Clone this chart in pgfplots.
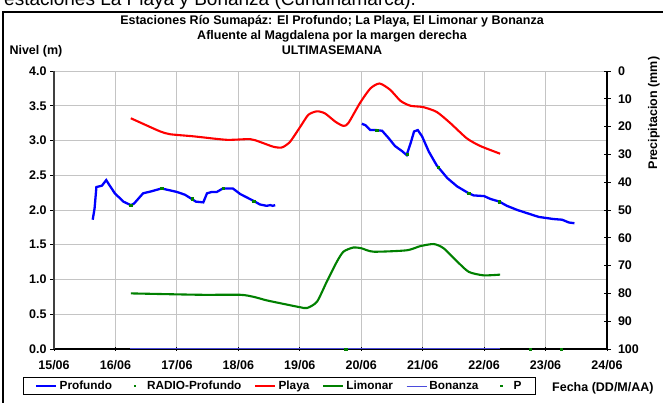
\documentclass[border=0pt]{standalone}
\usepackage{fontspec}
\setmainfont{Liberation Sans}
\usepackage{pgfplots}
\pgfplotsset{compat=1.18}

\definecolor{profundo}{HTML}{0000FF}
\definecolor{playa}{HTML}{FF0000}
\definecolor{limonar}{HTML}{008000}
\definecolor{bonanza}{HTML}{4B4BDC}
\definecolor{gridgray}{HTML}{C4C4C4}

\newcommand{\fs}{\fontsize{12.5}{14}\selectfont\bfseries}
\newcommand{\lfs}{\fontsize{11.8}{14}\selectfont\bfseries}

\pgfplotsset{
  lineleg/.style={legend image code/.code={\draw[##1] (0pt,0pt) -- (20pt,0pt);}},
  markleg/.style={legend image code/.code={\path[draw=none] (0pt,0pt) -- (20pt,0pt);
      \fill[limonar, draw=none] (8.8pt,-1.2pt) rectangle (11.2pt,1.2pt);}},
}

\begin{document}
\begin{tikzpicture}[x=1pt,y=1pt]
\useasboundingbox (0pt,0pt) rectangle (663pt,403pt);
% caption text cut off at the top of the screenshot
\node[anchor=base west, font=\fontsize{19}{22}\selectfont, inner sep=0pt] at (4pt,397pt) {estaciones La Playa y Bonanza (Cundinamarca).};
\draw[line width=1.6pt] (3pt,-5pt) -- (3pt,391pt) -- (670pt,391pt);

\node[anchor=base, font=\fs] at (332pt,378.5pt) {Estaciones Río Sumapáz: El Profundo; La Playa, El Limonar y Bonanza};
\node[anchor=base, font=\fs] at (332pt,363.5pt) {Afluente al Magdalena por la margen derecha};
\node[anchor=base, font=\fs] at (332pt,348.5pt) {ULTIMASEMANA};
\node[anchor=base west, font=\fs] at (6pt,348.5pt) {Nivel (m)};

\begin{axis}[
  at={(54pt,54pt)}, anchor=south west,
  width=553pt, height=278pt, scale only axis,
  xmin=0, xmax=9, ymin=0, ymax=4,
  axis x line*=bottom, axis y line*=left,
  x axis line style={line width=1.1pt, black, -},
  y axis line style={line width=1.3pt, black!75, -},
  xtick={0,...,9},
  xticklabels={15/06,16/06,17/06,18/06,19/06,20/06,21/06,22/06,23/06,24/06},
  xticklabel style={yshift=-6pt},
  ytick={0,0.5,...,4},
  yticklabel style={/pgf/number format/.cd, fixed, fixed zerofill, precision=1, assume math mode=true},
  tick label style={font=\fs},
  xtick align=center, ytick align=outside,
  major tick length=4pt,
  tick style={black, line width=0.8pt},
  grid=major,
  major grid style={gridgray, line width=0.9pt},
  legend columns=6,
  legend style={at={(-0.056,-0.102)}, anchor=north west, draw=black, line width=0.6pt,
    font=\lfs, inner xsep=12pt, inner ysep=1.5pt,
    /tikz/every even column/.append style={column sep=11pt}},
  legend cell align=left,
  lineleg,
]
\addplot[bonanza, line width=1.3pt, forget plot] coordinates {(1.24,0)(7.26,0)};

\addplot[profundo, line width=2.3pt] coordinates {
(0.63,1.86)(0.66,2.02)(0.69,2.33)(0.78,2.35)(0.85,2.43)(0.90,2.36)(0.99,2.24)
(1.13,2.12)(1.25,2.07)(1.30,2.09)(1.45,2.24)(1.59,2.27)(1.75,2.31)(2.00,2.26)
(2.13,2.22)(2.24,2.16)(2.31,2.12)(2.43,2.11)(2.49,2.24)(2.57,2.26)(2.65,2.26)
(2.75,2.31)(2.91,2.31)(3.03,2.23)(3.25,2.13)(3.35,2.08)(3.46,2.06)(3.52,2.07)
(3.56,2.06)(3.60,2.07)};
\addlegendentry{Profundo}
\addplot[profundo, line width=2.3pt, forget plot] coordinates {
(5.01,3.24)(5.07,3.22)(5.15,3.15)(5.24,3.15)(5.34,3.14)(5.45,3.03)(5.55,2.92)
(5.66,2.85)(5.74,2.79)(5.81,2.98)(5.86,3.13)(5.92,3.15)(5.99,3.06)(6.10,2.84)
(6.23,2.64)(6.40,2.46)(6.56,2.34)(6.75,2.24)(6.83,2.21)(7.00,2.20)(7.10,2.16)
(7.25,2.12)(7.37,2.06)(7.54,2.00)(7.75,1.94)(7.89,1.90)(8.13,1.87)(8.27,1.86)
(8.38,1.82)(8.47,1.81)};

\addplot[only marks, mark=square*, mark size=1.2pt, limonar, markleg] coordinates {
(1.25,2.07)(1.75,2.31)(2.25,2.16)(2.75,2.31)(3.25,2.13)
(5.25,3.15)(5.75,2.80)(6.25,2.62)(6.75,2.24)(7.25,2.12)};
\addlegendentry{RADIO-Profundo}

\addplot[playa, line width=2.1pt, smooth, tension=0.4] coordinates {
(1.25,3.32)(1.50,3.22)(1.73,3.13)(1.89,3.09)(2.27,3.06)(2.81,3.01)(3.19,3.02)
(3.35,2.98)(3.57,2.91)(3.71,2.90)(3.84,2.98)(4.01,3.20)(4.14,3.37)(4.28,3.42)
(4.41,3.39)(4.58,3.27)(4.71,3.21)(4.79,3.25)(4.98,3.54)(5.15,3.75)(5.30,3.82)
(5.47,3.73)(5.64,3.57)(5.80,3.50)(6.01,3.48)(6.23,3.41)(6.45,3.25)(6.72,3.03)
(6.94,2.92)(7.26,2.81)};
\addlegendentry{Playa}

\addplot[limonar, line width=2.1pt, smooth, tension=0.4] coordinates {
(1.25,0.80)(2.38,0.78)(3.03,0.78)(3.25,0.75)(3.46,0.70)(3.73,0.65)(4.01,0.60)
(4.12,0.59)(4.28,0.68)(4.44,0.97)(4.60,1.25)(4.71,1.40)(4.87,1.46)(5.00,1.45)
(5.20,1.40)(5.74,1.42)(5.96,1.48)(6.18,1.51)(6.34,1.45)(6.56,1.26)(6.75,1.11)
(6.99,1.06)(7.26,1.07)};
\addlegendentry{Limonar}

\addlegendimage{bonanza, line width=1.3pt}
\addlegendentry{Bonanza}

\addplot[only marks, mark=square*, mark size=1.2pt, limonar, markleg] coordinates {
(4.75,0)(7.75,0)(8.25,0)};
\addlegendentry{P}
\end{axis}

\begin{axis}[
  at={(54pt,54pt)}, anchor=south west,
  width=553pt, height=278pt, scale only axis,
  xmin=0, xmax=9, ymin=0, ymax=100, y dir=reverse,
  hide x axis,
  axis y line*=right,
  y axis line style={line width=1.1pt, black, -},
  ytick={0,10,...,100},
  yticklabel style={/pgf/number format/assume math mode=true, xshift=4pt},
  tick label style={font=\fs},
  ytick align=center,
  major tick length=7pt,
  tick style={black, line width=0.8pt},
]
\end{axis}

\node[rotate=90, font=\fs] at (654pt,290pt) {Precipitacion (mm)};
\node[anchor=west, font=\fs, inner sep=0pt] at (552pt,15pt) {Fecha (DD/M/AA)};
\end{tikzpicture}
\end{document}
